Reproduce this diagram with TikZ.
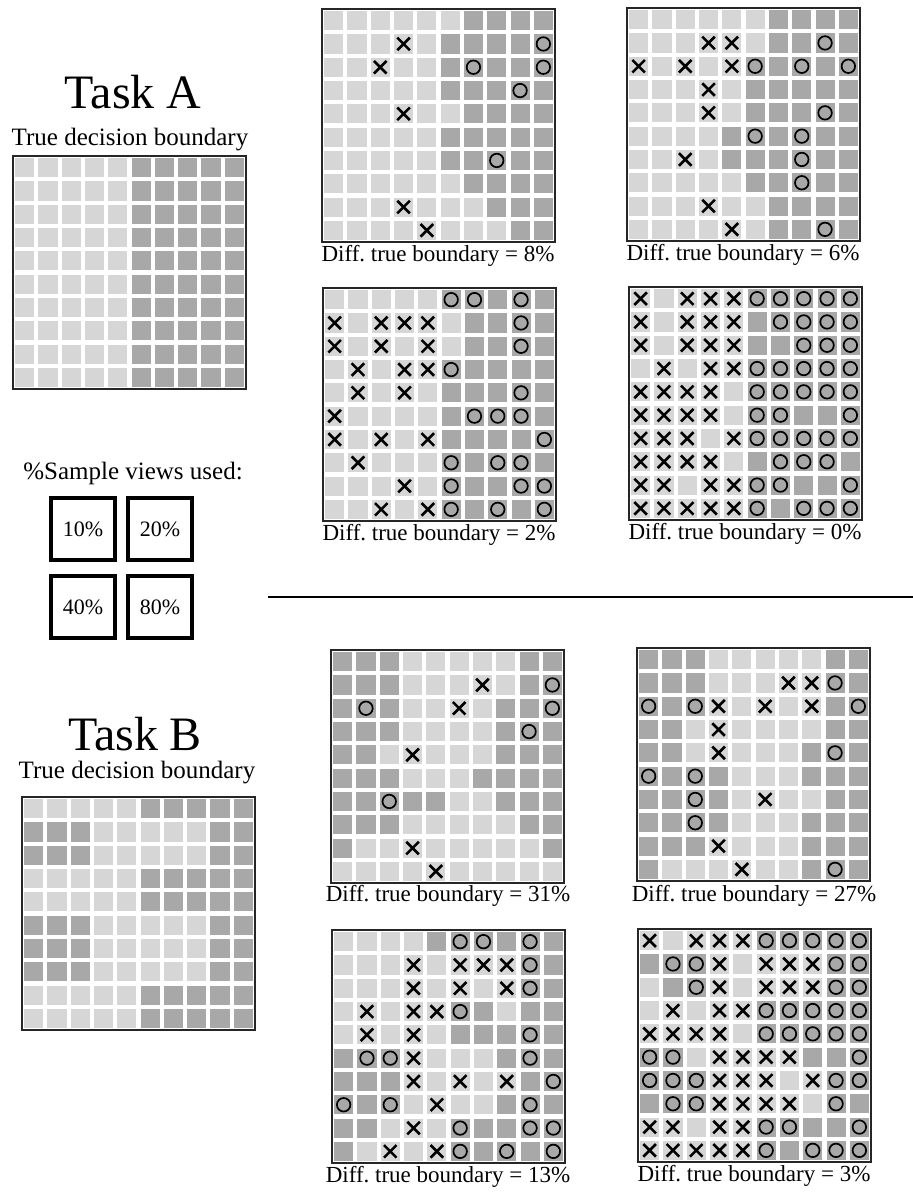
\documentclass[tikz,border=0pt]{standalone}
\usepackage{fontspec}
\setmainfont{Liberation Serif}

% Raster: #1,#2 = obere linke Ecke, #3 = dunkle Felder, #4 = Kreuze, #5 = Kreise
\newcommand{\raster}[5]{%
  \begin{scope}[shift={(#1,#2)}, x=23.3pt, y=-23.3pt]
    \fill[white] (0,0) rectangle (10,10);
    \foreach \r in {1,...,10}
      \foreach \c in {1,...,10}
        \fill[hell] (\c-0.91,\r-0.91) rectangle (\c-0.09,\r-0.09);
    \foreach \r/\cs in {#3}
      \foreach \c in \cs
        \fill[dunkel] (\c-0.91,\r-0.91) rectangle (\c-0.09,\r-0.09);
    \foreach \r/\c in {#4}
      \draw[kreuz] (\c-0.77,\r-0.77) -- (\c-0.23,\r-0.23) (\c-0.77,\r-0.23) -- (\c-0.23,\r-0.77);
    \foreach \r/\c in {#5}
      \draw[kreis] (\c-0.5,\r-0.5) circle[radius=0.29];
    \draw[rahmen] (0,0) rectangle (10,10);
  \end{scope}}

\begin{document}
\begin{tikzpicture}[x=1pt, y=-1pt,
    hell/.style={fill=black!16},
    dunkel/.style={fill=black!34},
    rahmen/.style={draw=black!85, line width=1.6pt},
    kreuz/.style={draw=black, line width=2.6pt},
    kreis/.style={draw=black, line width=1.7pt},
    titel/.style={font=\fontsize{48}{52}\selectfont, inner sep=0pt, anchor=base},
    unter/.style={font=\fontsize{25}{28}\selectfont, inner sep=0pt, anchor=base},
    diff/.style={font=\fontsize{23}{26}\selectfont, inner sep=0pt, anchor=north},
    kasten/.style={draw, line width=3.5pt, minimum width=64pt, minimum height=62pt,
      inner sep=0pt, font=\fontsize{22}{24}\selectfont}]
\useasboundingbox (0,0) rectangle (913,1197);

% Aufgabe A:
\node[titel] (taskA) at (133,108) {Task A};
\node[unter] (wahrA) at (130,145) {True decision boundary};
\raster{13}{156}{1/{6,...,10},2/{6,...,10},3/{6,...,10},4/{6,...,10},5/{6,...,10},
  6/{6,...,10},7/{6,...,10},8/{6,...,10},9/{6,...,10},10/{6,...,10}}{}{}

% Anteil der Stichproben:
\node[unter] (anteil) at (133,479) {\%Sample views used:};
\node[kasten] (k10) at (83,529) {10\%};
\node[kasten] (k20) at (160,529) {20\%};
\node[kasten] (k40) at (83,607) {40\%};
\node[kasten] (k80) at (160,607) {80\%};

% A, 10%
\raster{322}{9}{1/{7,...,10},2/{6,...,10},3/{6,...,10},4/{6,...,10},5/{7,...,10},
  6/{6,...,10},7/{6,...,10},8/{7,...,10},9/{8,9,10},10/{9,10}}
  {2/4,3/3,5/4,9/4,10/5}{2/10,3/7,3/10,4/9,7/8}
\node[diff] (diffA1) at (438,245) {Diff.\ true boundary = 8\%};
% A, 20%
\raster{627}{8}{1/{7,...,10},2/{7,...,10},3/{6,...,10},4/{6,...,10},5/{6,...,10},
  6/{5,...,10},7/{5,...,10},8/{6,...,10},9/{7,...,10},10/{7,...,10}}
  {2/4,2/5,3/1,3/3,3/5,4/4,5/4,7/3,9/4,10/5}
  {2/9,3/6,3/8,3/10,5/9,6/6,6/8,7/8,8/8,10/9}
\node[diff] (diffA2) at (743,244) {Diff.\ true boundary = 6\%};
% A, 40%
\raster{323}{288}{1/{6,...,10},2/{7,...,10},3/{7,...,10},4/{6,...,10},5/{6,...,10},
  6/{6,...,10},7/{6,...,10},8/{6,...,10},9/{6,...,10},10/{6,...,10}}
  {2/1,2/3,2/4,2/5,3/1,3/3,3/5,4/2,4/4,4/5,5/2,5/4,6/1,7/1,7/3,7/5,8/2,9/4,10/3,10/5}
  {1/6,1/7,1/9,2/9,3/9,4/6,5/9,6/7,6/8,6/9,7/10,8/6,8/8,8/9,9/6,9/9,9/10,10/6,10/8,10/10}
\node[diff] (diffA3) at (439,524) {Diff.\ true boundary = 2\%};
% A, 80%
\raster{629}{287}{1/{6,...,10},2/{6,...,10},3/{6,...,10},4/{6,...,10},5/{6,...,10},
  6/{6,...,10},7/{6,...,10},8/{6,...,10},9/{6,...,10},10/{6,...,10}}
  {1/1,1/3,1/4,1/5,2/1,2/3,2/4,2/5,3/1,3/3,3/4,3/5,4/2,4/4,4/5,5/1,5/2,5/3,5/4,
   6/1,6/2,6/3,6/4,7/1,7/2,7/3,7/5,8/1,8/2,8/3,8/4,9/1,9/2,9/4,9/5,10/1,10/2,10/3,10/4,10/5}
  {1/6,1/7,1/8,1/9,1/10,2/7,2/8,2/9,2/10,3/8,3/9,3/10,4/6,4/7,4/8,4/9,4/10,
   5/6,5/7,5/8,5/9,5/10,6/6,6/7,6/10,7/6,7/7,7/8,7/9,7/10,8/7,8/8,8/9,9/6,9/7,9/10,
   10/6,10/8,10/9,10/10}
\node[diff] (diffA4) at (745,523) {Diff.\ true boundary = 0\%};

\draw[line width=2.5pt] (268,597) -- (913,597); % Trennlinie

% Aufgabe B:
\node[titel] (taskB) at (135,750) {Task B};
\node[unter] (wahrB) at (137,778) {True decision boundary};
\raster{22}{797}{1/{6,...,10},2/{1,2,3,9,10},3/{1,2,3,9,10},4/{6,...,10},5/{6,...,10},
  6/{1,2,3,9,10},7/{1,2,3,9,10},8/{1,2,3,9,10},9/{6,...,10},10/{6,...,10}}{}{}

% B, 10%
\raster{331}{650}{1/{1,2,3,9,10},2/{1,2,3,9,10},3/{1,2,3,8,9,10},4/{1,2,3,8,9,10},
  5/{1,2,8,9,10},6/{1,2,3,7,8,9,10},7/{1,2,3,4,5,8,9,10},8/{1,2,3,9,10},9/{1,10}}
  {2/7,3/6,5/4,9/4,10/5}{2/10,3/2,3/10,4/9,7/3}
\node[diff] (diffB1) at (448,885) {Diff.\ true boundary = 31\%};
% B, 20%
\raster{637}{648}{1/{1,2,3,9,10},2/{1,2,3,9,10},3/{1,2,3,9,10},4/{1,2,9,10},
  5/{1,2,8,9,10},6/{1,2,3,4,8,9,10},7/{1,2,3,4,9,10},8/{1,2,3,4,8,9,10},
  9/{1,2,3,8,9,10},10/{1,8,9,10}}
  {2/7,2/8,3/4,3/6,3/8,4/4,5/4,7/6,9/4,10/5}
  {2/9,3/1,3/3,3/10,5/9,6/1,6/3,7/3,8/3,10/9}
\node[diff] (diffB2) at (754,885) {Diff.\ true boundary = 27\%};
% B, 40%
\raster{332}{930}{1/{5,...,10},2/{9,10},3/{9,10},4/{6,7,9,10},5/{6,...,10},
  6/{1,2,3,8,9,10},7/{1,2,3,9,10},8/{1,2,3,8,9,10},9/{1,2,6,7,8,9,10},10/{1,6,7,8,9,10}}
  {2/4,2/6,2/7,2/8,3/4,3/6,3/8,4/2,4/4,4/5,5/2,5/4,6/4,7/4,7/6,7/8,8/5,9/4,10/3,10/5}
  {1/6,1/7,1/9,2/9,3/9,4/6,5/9,6/2,6/3,6/9,7/10,8/1,8/3,8/9,9/6,9/9,9/10,10/6,10/8,10/10}
\node[diff] (diffB3) at (448,1166) {Diff.\ true boundary = 13\%};
% B, 80%
\raster{638}{929}{1/{6,...,10},2/{1,2,3,9,10},3/{2,3,9,10},4/{6,...,10},5/{6,...,10},
  6/{1,2,8,9,10},7/{1,2,3,9,10},8/{1,2,3,9,10},9/{6,...,10},10/{6,...,10}}
  {1/1,1/3,1/4,1/5,2/4,2/6,2/7,2/8,3/4,3/6,3/7,3/8,4/2,4/4,4/5,5/1,5/2,5/3,5/4,
   6/4,6/5,6/6,6/7,7/4,7/5,7/6,7/8,8/4,8/5,8/6,8/7,9/1,9/2,9/4,9/5,10/1,10/2,10/3,10/4,10/5}
  {1/6,1/7,1/8,1/9,1/10,2/2,2/3,2/9,2/10,3/3,3/9,3/10,4/6,4/7,4/8,4/9,4/10,
   5/6,5/7,5/8,5/9,5/10,6/1,6/2,6/10,7/1,7/2,7/3,7/9,7/10,8/2,8/3,8/9,9/6,9/7,9/10,
   10/6,10/8,10/9,10/10}
\node[diff] (diffB4) at (754,1165) {Diff.\ true boundary = 3\%};
\end{tikzpicture}
\end{document}
